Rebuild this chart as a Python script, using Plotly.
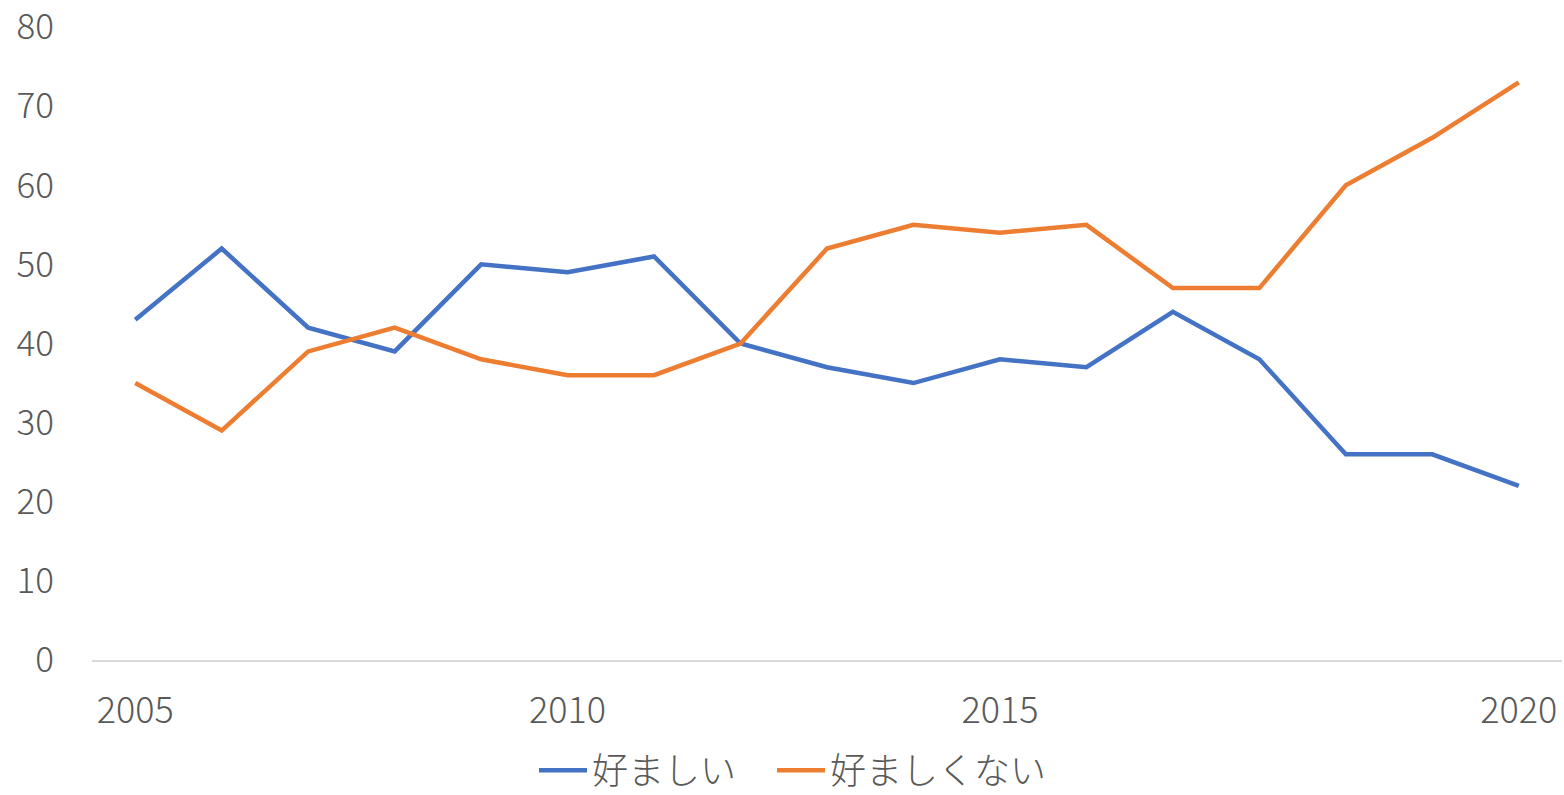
import plotly.graph_objects as go

x_index = list(range(17))
tick_positions = [0, 5, 10, 16]
tick_labels = ["2005", "2010", "2015", "2020"]
favorable = [43, 52, 42, 39, 50, 49, 51, 40, 37, 35, 38, 37, 44, 38, 26, 26, 22]
unfavorable = [35, 29, 39, 42, 38, 36, 36, 40, 52, 55, 54, 55, 47, 47, 60, 66, 73]
names = ["好ましい", "好ましくない"]
colors = ["#4472C4", "#ED7D31"]
legend_ids = ["legend", "legend2"]

FONT = "Noto Sans CJK JP"

fig = go.Figure()
for name, vals, col, lg in zip(names, [favorable, unfavorable], colors, legend_ids):
    fig.add_trace(go.Scatter(x=x_index, y=vals, mode="lines", name=name,
                             line=dict(color=col, width=4.5), cliponaxis=False,
                             legend=lg))

legend_common = dict(orientation="h", xref="container", yref="container",
                     xanchor="left", y=0.031, yanchor="middle",
                     font=dict(size=36, color="#595959", weight=300),
                     itemwidth=48, bgcolor="rgba(0,0,0,0)")

fig.update_layout(
    width=1564, height=795,
    margin=dict(l=92, r=2, t=27, b=135),
    paper_bgcolor="white", plot_bgcolor="white",
    font=dict(family=FONT, size=36, color="#595959", weight=300),
    showlegend=True,
    legend=dict(x=534 / 1564, **legend_common),
    legend2=dict(x=772 / 1564, **legend_common),
    xaxis=dict(range=[-0.5, 16.5], tickmode="array", tickvals=tick_positions,
               ticktext=tick_labels, showgrid=False, zeroline=False,
               showline=True, linecolor="#D9D9D9", linewidth=1.5,
               ticks="", ticklabelstandoff=18, automargin=False,
               ticklabeloverflow="allow"),
    yaxis=dict(range=[0, 80], tickmode="array",
               tickvals=[0, 10, 20, 30, 40, 50, 60, 70, 80],
               showgrid=False, zeroline=False, showline=False,
               ticks="", ticklabelstandoff=37, automargin=False,
               ticklabeloverflow="allow",
               tickfont=dict(size=35, color="#595959", weight=300)),
)

fig.write_html(
    "out.html",
    config={"displayModeBar": False},
    post_script="document.body.style.margin='0';document.body.style.overflow='hidden';",
)
